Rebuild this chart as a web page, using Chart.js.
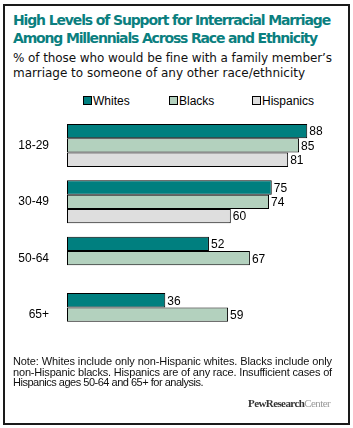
<!DOCTYPE html>
<html><head><meta charset="utf-8">
<script src="https://cdn.jsdelivr.net/npm/chart.js@4/dist/chart.umd.min.js"></script>
<style>
html,body{margin:0;padding:0;background:#fff;}
body{width:353px;height:428px;position:relative;overflow:hidden;}
#frame{position:absolute;left:3px;top:4px;width:343px;height:417px;border:2px solid #1a1a1a;}
.t{position:absolute;white-space:nowrap;}
.ln{display:block;white-space:nowrap;}
.ln span.in{display:inline-block;}
#title{left:13px;top:11px;font:bold 14px "DejaVu Sans";color:#0b7f7f;line-height:18px;}
#sub{left:13px;top:51px;font:12px "DejaVu Sans";color:#111;line-height:15px;}
#legend{left:0;top:94px;font:12px "Liberation Sans";color:#000;}
.lg{position:absolute;top:0;white-space:nowrap;}
.bx{position:absolute;top:2px;width:7px;height:7px;border:1px solid #000;}
#note{left:13px;top:356px;font:11px "Liberation Sans";color:#111;line-height:10.7px;}
#logo{left:248px;top:397px;font:11px "Liberation Serif";color:#333;}
#wrap{position:absolute;left:0;top:100px;width:353px;height:260px;}
</style></head><body>
<div id="frame"></div>
<div class="t" id="title"><span class="ln"><span class="in" data-w="317">High Levels of Support for Interracial Marriage</span></span><span class="ln"><span class="in" data-w="304">Among Millennials Across Race and Ethnicity</span></span></div>
<div class="t" id="sub"><span class="ln"><span class="in" data-w="319">% of those who would be fine with a family member’s</span></span><span class="ln"><span class="in" data-w="292">marriage to someone of any other race/ethnicity</span></span></div>
<div class="t" id="legend"></div>
<div id="wrap"><canvas id="c"></canvas></div>
<div class="t" id="note"><span class="ln"><span class="in" data-w="319">Note: Whites include only non-Hispanic whites. Blacks include only</span></span><span class="ln"><span class="in" data-w="319">non-Hispanic blacks. Hispanics are of any race. Insufficient cases of</span></span><span class="ln"><span class="in" data-w="190">Hispanics ages 50-64 and 65+ for analysis.</span></span></div>
<div class="t" id="logo"><span class="in" data-w="82" style="display:inline-block"><b style="font-weight:bold">PewResearch</b><span style="color:#999">Center</span></span></div>
<script>
const categories = ["18-29","30-49","50-64","65+"];
const seriesNames = ["Whites","Blacks","Hispanics"];
const whites = [88,75,52,36];
const blacks = [85,74,67,59];
const hispanics = [81,60,null,null];
const colors = ["#007f7f","#b3d1be","#dedede"];

document.querySelectorAll('[data-w]').forEach(el=>{
  const target=+el.dataset.w; const w=el.getBoundingClientRect().width;
  const n=el.textContent.length;
  el.style.letterSpacing=((target-w)/n)+'px';
});

const leg = document.getElementById('legend');
const legX = [83,169,252];
seriesNames.forEach((n,i)=>{
  const d=document.createElement('div');d.className='lg';d.style.left=legX[i]+'px';
  d.innerHTML='<span class="bx" style="left:0;background:'+colors[i]+'"></span><span style="position:absolute;left:10px;top:0">'+n+'</span>';
  leg.appendChild(d);
});

const labelPlugin={id:'vals',afterDatasetsDraw(chart){
  const ctx=chart.ctx;ctx.save();ctx.font='12px "Liberation Sans"';ctx.fillStyle='#000';ctx.textBaseline='middle';ctx.textAlign='left';
  chart.data.datasets.forEach((ds,di)=>{
    chart.getDatasetMeta(di).data.forEach((bar,i)=>{
      const v=ds.data[i]; if(v==null) return;
      ctx.fillText(String(v),bar.x+2,bar.y+1);
    });
  });
  ctx.restore();
}};

new Chart(document.getElementById('c'),{
  type:'bar',
  data:{labels:categories,datasets:[
    {label:seriesNames[0],data:whites,backgroundColor:colors[0]},
    {label:seriesNames[1],data:blacks,backgroundColor:colors[1]},
    {label:seriesNames[2],data:hispanics,backgroundColor:colors[2]}
  ].map(d=>Object.assign(d,{borderColor:'#000',borderWidth:1,borderSkipped:false,barPercentage:1,categoryPercentage:45/59}))},
  options:{indexAxis:'y',responsive:true,maintainAspectRatio:false,animation:false,
    layout:{padding:{left:0,right:13,top:11.5,bottom:12.5}},
    plugins:{legend:{display:false},tooltip:{enabled:false}},
    scales:{
      x:{display:false,min:0,max:100},
      y:{grid:{display:false},border:{display:false},
         ticks:{color:'#000',font:{family:'Liberation Sans',size:12},padding:10},
         afterFit(s){s.width=67;}}
    }
  },
  plugins:[labelPlugin]
});
</script>
</body></html>
